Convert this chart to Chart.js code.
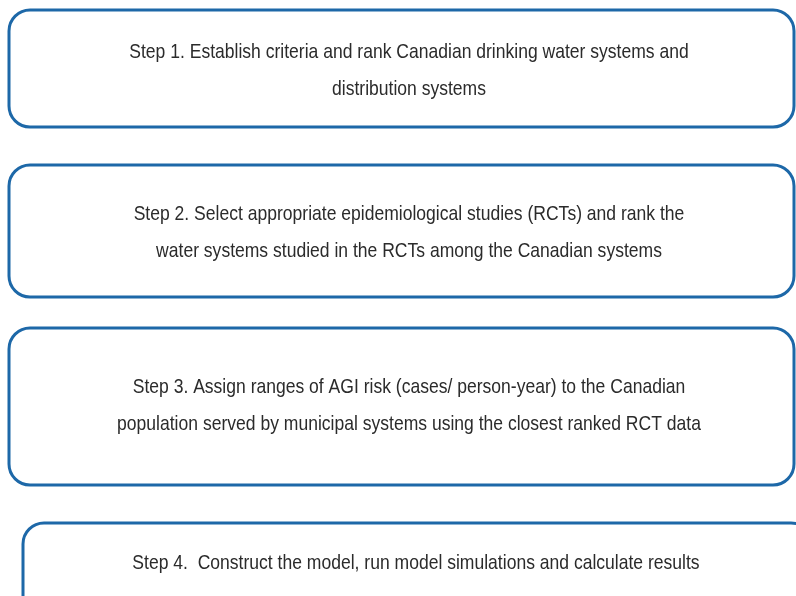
<!DOCTYPE html>
<html>
<head>
<meta charset="utf-8">
<script src="https://cdn.jsdelivr.net/npm/chart.js@4/dist/chart.umd.min.js"></script>
<style>
  html, body { margin: 0; padding: 0; background: #ffffff; }
  #wrap { width: 796px; height: 596px; position: relative; }
</style>
</head>
<body>
<div id="wrap"><canvas id="flow"></canvas></div>
<script>
// Steps of the flow, one entry per box
const stepLines = [
    ['Step 1. Establish criteria and rank Canadian drinking water systems and', 'distribution systems'],
    ['Step 2. Select appropriate epidemiological studies (RCTs) and rank the', 'water systems studied in the RCTs among the Canadian systems'],
    ['Step 3. Assign ranges of AGI risk (cases/ person-year) to the Canadian', 'population served by municipal systems using the closest ranked RCT data'],
    ['Step 4.  Construct the model, run model simulations and calculate results']
];

// Box extents in chart units (x: 0-796 across, y: 0-596 downwards)
const boxLeft = [9, 9, 9, 23];
const boxRight = [794, 794, 794, 812];
const boxTop = [10, 165, 328, 523];
const boxBottom = [127, 297, 485, 620];
const textCenterX = [409, 409, 409, 416];
const textFirstY = [52, 214, 387, 563];

const BORDER = '#1d68a8';
const TEXT = '#2b2b2b';
const LINE_GAP = 37;
const SQUEEZE = 0.835; // text in the source is narrow

// draws the rounded boxes and their text from the scales
const flowBoxes = {
    id: 'flowBoxes',
    beforeDatasetsDraw(chart) {
        const { ctx, scales: { x, y } } = chart;
        ctx.save();
        stepLines.forEach((lines, i) => {
            const l = x.getPixelForValue(boxLeft[i]);
            const r = x.getPixelForValue(boxRight[i]);
            const t = y.getPixelForValue(boxTop[i]);
            const b = y.getPixelForValue(boxBottom[i]);
            ctx.beginPath();
            ctx.roundRect(l, t, r - l, b - t, 21);
            ctx.lineWidth = 3;
            ctx.strokeStyle = BORDER;
            ctx.stroke();

            ctx.fillStyle = TEXT;
            ctx.font = "21px 'Liberation Sans Narrow', 'Arial Narrow', 'Liberation Sans', sans-serif";
            ctx.textAlign = 'center';
            ctx.textBaseline = 'middle';
            lines.forEach((txt, k) => {
                const cx = x.getPixelForValue(textCenterX[i]);
                const cy = y.getPixelForValue(textFirstY[i] + k * LINE_GAP);
                ctx.save();
                ctx.translate(cx, cy);
                ctx.scale(SQUEEZE, 1);
                ctx.fillText(txt, 0, 0);
                ctx.restore();
            });
        });
        ctx.restore();
    }
};

new Chart(document.getElementById('flow'), {
    type: 'scatter',
    data: {
        datasets: [{
            data: textCenterX.map((cx, i) => ({ x: cx, y: textFirstY[i] })),
            pointRadius: 0
        }]
    },
    options: {
        responsive: true,
        maintainAspectRatio: false,
        animation: false,
        layout: { padding: 0 },
        plugins: { legend: { display: false }, tooltip: { enabled: false } },
        scales: {
            x: { type: 'linear', min: 0, max: 796, display: false },
            y: { type: 'linear', min: 0, max: 596, reverse: true, display: false }
        }
    },
    plugins: [flowBoxes]
});
</script>
</body>
</html>
